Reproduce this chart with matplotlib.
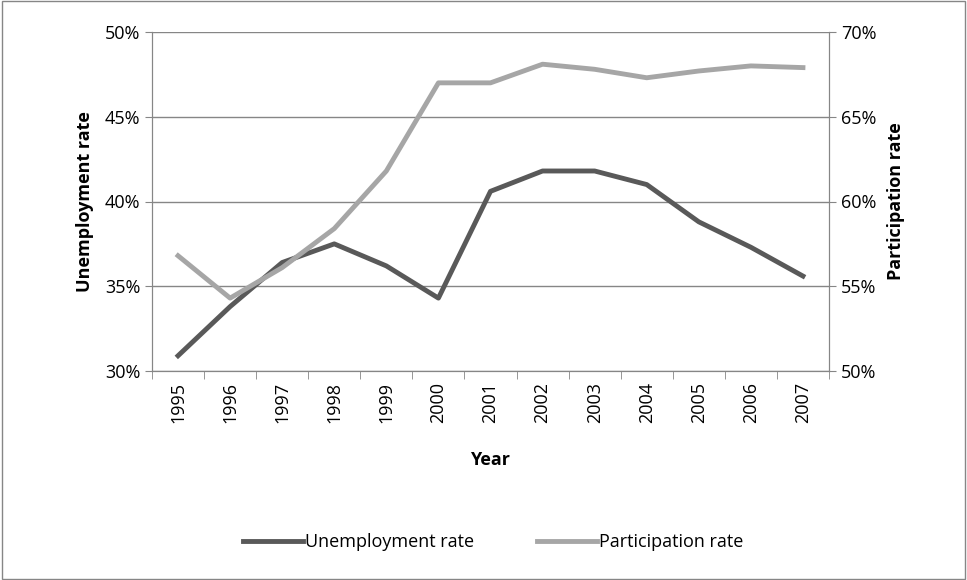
import matplotlib.pyplot as plt
from matplotlib.patches import Rectangle
from matplotlib.ticker import FuncFormatter

years = ['1995', '1996', '1997', '1998', '1999', '2000', '2001',
         '2002', '2003', '2004', '2005', '2006', '2007']
unemployment = [30.9, 33.8, 36.4, 37.5, 36.2, 34.3, 40.6, 41.8, 41.8, 41.0, 38.8, 37.3, 35.6]
participation = [56.8, 54.3, 56.1, 58.4, 61.8, 67.0, 67.0, 68.1, 67.8, 67.3, 67.7, 68.0, 67.9]

plt.rcParams['font.family'] = ['Open Sans', 'DejaVu Sans']

fig = plt.figure(figsize=(9.67, 5.8), dpi=100)
ax = fig.add_axes([152 / 967, 1 - 371 / 580, (829 - 152) / 967, (371 - 32) / 580])
ax2 = ax.twinx()

x = list(range(len(years)))
l1, = ax.plot(x, unemployment, color='#595959', lw=3.5, label='Unemployment rate')
l2, = ax2.plot(x, participation, color='#a6a6a6', lw=3.5, label='Participation rate')

ax.set_xlim(-0.5, len(years) - 0.5)
ax.set_ylim(30, 50)
ax2.set_ylim(50, 70)
ax.set_yticks(range(30, 51, 5))
ax2.set_yticks(range(50, 71, 5))
pct = FuncFormatter(lambda v, p: f'{v:.0f}%')
ax.yaxis.set_major_formatter(pct)
ax2.yaxis.set_major_formatter(pct)
ax.set_xticks(x)
ax.set_xticklabels(years, rotation=90, fontsize=13)
ax.set_xticks([i - 0.5 for i in range(len(years) + 1)], minor=True)
ax.tick_params(axis='x', which='major', length=0, pad=8)
ax.tick_params(axis='x', which='minor', length=6, color='#868686')
ax.tick_params(axis='y', labelsize=13, length=5, color='#868686')
ax2.tick_params(axis='y', labelsize=13, length=5, color='#868686')
ax.grid(axis='y', color='#868686', lw=1)

for a in (ax, ax2):
    for s in a.spines.values():
        s.set_visible(False)
    for s in ('left', 'right', 'bottom'):
        a.spines[s].set_visible(True)
        a.spines[s].set_color('#868686')

ax.set_xlabel('Year', fontsize=13, fontweight='bold', labelpad=20)
ax.set_ylabel('Unemployment rate', fontsize=13, fontweight='bold', labelpad=8)
ax2.set_ylabel('Participation rate', fontsize=13, fontweight='bold', labelpad=8)

fig.legend(handles=[l1, l2], loc='center', bbox_to_anchor=(0.51, 1 - 542 / 580),
           ncol=2, frameon=False, fontsize=13, handlelength=3.3,
           handletextpad=0.1, columnspacing=3.5)

fig.patches.append(Rectangle((0.002, 0.002), 0.996, 0.996, transform=fig.transFigure,
                             fill=False, edgecolor='#868686', lw=1))

fig.savefig('out.png', dpi=100)
